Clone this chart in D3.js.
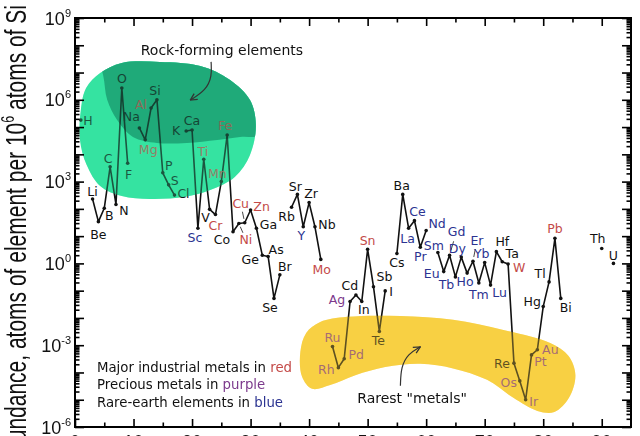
<!DOCTYPE html>
<html>
<head>
<meta charset="utf-8">
<script src="https://d3js.org/d3.v7.min.js"></script>
<style>
body { margin: 0; background: #fff; }
svg { display: block; }
.lbl { font-family: "DejaVu Sans", sans-serif; font-size: 12.5px; }
.ann { font-family: "DejaVu Sans", sans-serif; font-size: 14px; fill: #111; }
.leg { font-family: "DejaVu Sans", sans-serif; font-size: 13.3px; fill: #111; }
.tick-lbl { font-family: "Liberation Sans", Arial, sans-serif; fill: #111; }
</style>
</head>
<body>
<svg id="chart" width="640" height="436"></svg>
<script>
// elements shown, atomic number, atoms per 10^6 atoms of Si (upper crust)
var symbols = ["H","Li","Be","B","C","N","O","F","Na","Mg","Al","Si","P","S","Cl",
  "K","Ca","Sc","Ti","V","Cr","Mn","Fe","Co","Ni","Cu","Zn","Ga","Ge","As","Se","Br",
  "Rb","Sr","Y","Zr","Nb","Mo","Ru","Rh","Pd","Ag","Cd","In","Sn","Sb","Te","I",
  "Cs","Ba","La","Ce","Pr","Nd","Sm","Eu","Gd","Tb","Dy","Ho","Er","Tm","Yb","Lu",
  "Hf","Ta","W","Re","Os","Ir","Pt","Au","Hg","Tl","Pb","Bi","Th","U"];
var atomicNumbers = [1,3,4,5,6,7,8,9,11,12,13,14,15,16,17,
  19,20,21,22,23,24,25,26,27,28,29,30,31,32,33,34,35,
  37,38,39,40,41,42,44,45,46,47,48,49,50,51,52,53,
  55,56,57,58,59,60,62,63,64,65,66,67,68,69,70,71,
  72,73,74,75,76,77,78,79,80,81,82,83,90,92];
var abundance = [1.8e5,230,34,105,3500,145,2.7e6,4700,9.3e4,3.4e4,5.0e5,1.0e6,2100,760,320,
  7.2e4,7.8e4,19.5,6600,96,62,1000,5.1e4,14.5,29,31,91,19.5,2.0,1.8,0.052,0.38,
  115,340,22,170,22,1.4,8.9e-4,1.5e-4,3.2e-4,0.04,0.069,0.04,3.3,0.14,3.2e-3,0.098,
  2.3,340,19.5,37,3.9,16,2.5,0.5,2.0,0.32,1.7,0.44,1.2,0.19,1.07,0.16,
  2.7,1.15,0.95,2.2e-4,4.9e-5,1.0e-5,4.4e-4,6.8e-4,0.026,0.21,8.3,0.052,3.5,1.0];

var redMetals = ["Mg","Al","Ti","Cr","Mn","Fe","Ni","Cu","Zn","Mo","Sn","W","Pb"];
var preciousMetals = ["Ru","Rh","Pd","Ag","Os","Ir","Pt","Au"];
var rareEarths = ["Sc","Y","La","Ce","Pr","Nd","Sm","Eu","Gd","Tb","Dy","Ho","Er","Tm","Yb","Lu"];

var yTickExponents = [-6,-3,0,3,6,9];
var xTickValues = [0,10,20,30,40,50,60,70,80,90];
var legendLines = [["Major industrial metals in ","red"],["Precious metals in ","purple"],["Rare-earth elements in ","blue"]];

// where each label sits relative to its point (px)
var labelOffset = {H:[7,0],Li:[0,-8],Be:[0,13],B:[5,7],C:[-2,-8],N:[8,6],O:[0,-10],F:[1,11],
  Na:[-8,-11],Mg:[3,10],Al:[-10,-4],Si:[-2,-9],P:[6,-7],S:[6,-4],Cl:[9,-2],K:[-10,0],Ca:[0,-10],
  Sc:[-3,9],Ti:[-1,-8],V:[-4,8],Cr:[0,11],Mn:[-4,-8],Fe:[-2,-10],Co:[-11,8],Ni:[7,16],Cu:[-4,-19],
  Zn:[11,-3],Ga:[12,-4],Ge:[-12,4],As:[8,-7],Se:[-4,9],Br:[5,-8],Rb:[-5,9],Sr:[-2,-8],Y:[-2,9],
  Zr:[2,-9],Nb:[12,-2],Mo:[1,10],Ru:[0,-9],Rh:[-12,2],Pd:[12,-4],Ag:[-13,-2],Cd:[-6,-10],In:[2,8],
  Sn:[0,-9],Sb:[11,-10],Te:[-1,9],I:[6,1],Cs:[0,9],Ba:[-1,-9],La:[-1,10],Ce:[3,-9],Pr:[0,9],
  Nd:[11,-7],Sm:[-4,-7],Eu:[-12,2],Gd:[7,-24],Tb:[-9,8],Dy:[-4,-9],Ho:[-2,8],Er:[4,-21],Tm:[0,11],
  Yb:[-3,-9],Lu:[9,7],Hf:[6,-10],Ta:[10,-8],W:[11,3],Re:[-12,0],Os:[-11,2],Ir:[8,2],Pt:[9,7],
  Au:[13,0],Hg:[-11,-5],Tl:[-9,-8],Pb:[0,-10],Bi:[5,9],Th:[-4,-10],U:[0,-8]};
var leaders = ["Cu","Ni","Gd","Er"];

// annotation shapes, in [Z, log10 abundance]
var rockBlob = [[1.0,5.63],[1.9,6.43],[4.3,6.98],[8.0,7.35],[14.5,7.39],[21.4,7.24],[26.5,6.73],
  [29.9,5.99],[30.9,5.08],[29.9,3.98],[27.3,3.17],[23.1,2.69],[18.8,2.44],[12.8,2.36],[8.0,2.47],
  [4.3,2.84],[2.0,3.61],[0.85,4.53]];
var rockDark = [[3.4,7.9],[4.8,6.91],[5.5,6.0],[7.2,5.26],[9.9,4.64],[14.0,4.42],[19.1,4.42],
  [24.3,4.53],[28.2,4.64],[32.5,4.78],[33,7.9]];
var rareBlob = [[38.5,-3.25],[39.5,-2.55],[41.9,-2.15],[46.5,-1.96],[55.6,-1.93],[64.6,-2.07],
  [73.2,-2.44],[81.2,-2.92],[84.3,-3.39],[85.5,-4.09],[84.4,-4.93],[81.9,-5.45],[79.0,-5.41],
  [74.9,-4.93],[70.4,-4.27],[64.6,-3.85],[59.0,-3.68],[53.0,-3.8],[47.9,-4.1],[43.6,-4.46],
  [40.5,-4.6],[38.8,-4.16]];
var rockArrow = [[23.25,7.39],[23.4,6.87],[22.4,6.36],[19.7,5.99]];
var rareArrow = [[55.6,-4.49],[55.7,-3.8],[56.9,-3.32],[59.0,-3.06]];

var W = 640, H = 436;
var margin = {top: 18, right: 9, bottom: 9, left: 75};

var svg = d3.select("#chart");

var x = d3.scaleLinear().domain([0, 95]).range([margin.left, W - margin.right]);
var y = d3.scaleLog().domain([1e-6, 1e9]).range([H - margin.bottom, margin.top]);

var pt = function(p) { return [x(p[0]), y(Math.pow(10, p[1]))]; };
var blobLine = d3.line().curve(d3.curveCatmullRomClosed.alpha(0.5));

var data = symbols.map(function(s, i) { return {sym: s, z: atomicNumbers[i], v: abundance[i]}; });

// split into runs of consecutive atomic numbers
var segments = [];
data.forEach(function(d, i) {
  if (i === 0 || d.z - data[i - 1].z > 1) segments.push([]);
  segments[segments.length - 1].push(d);
});

var defs = svg.append("defs");
defs.append("clipPath").attr("id", "rockclip")
  .append("path").attr("d", blobLine(rockBlob.map(pt)));
defs.append("marker").attr("id", "arrow")
  .attr("viewBox", "0 0 10 10").attr("refX", 9).attr("refY", 5)
  .attr("markerWidth", 7).attr("markerHeight", 7).attr("orient", "auto")
  .append("path").attr("d", "M1,1 L9,5 L1,9").attr("fill", "none")
  .attr("stroke", "#333").attr("stroke-width", 1.5);

var lightGreen = "#36e3a2", darkGreen = "#20aa7a", gold = "#f8d044";

function drawBlobs(g) {
  g.append("path").attr("d", blobLine(rockBlob.map(pt))).attr("fill", lightGreen);
  g.append("path").attr("d", d3.line().curve(d3.curveCatmullRom)(rockDark.map(pt)))
    .attr("fill", darkGreen).attr("clip-path", "url(#rockclip)");
  g.append("path").attr("d", blobLine(rareBlob.map(pt))).attr("fill", gold);
}

drawBlobs(svg.append("g"));

function colorOf(s) {
  if (redMetals.indexOf(s) >= 0) return "#c44a48";
  if (preciousMetals.indexOf(s) >= 0) return "#7c3a8c";
  if (rareEarths.indexOf(s) >= 0) return "#2b3391";
  return "#111";
}

var line = d3.line().x(function(d) { return x(d.z); }).y(function(d) { return y(d.v); });

var plot = svg.append("g");
plot.selectAll("path.series").data(segments.filter(function(s) { return s.length > 1; }))
  .enter().append("path").attr("class", "series")
  .attr("d", line).attr("fill", "none").attr("stroke", "#111")
  .attr("stroke-width", 1.6).attr("stroke-linejoin", "round");

plot.selectAll("circle").data(data).enter().append("circle")
  .attr("cx", function(d) { return x(d.z); })
  .attr("cy", function(d) { return y(d.v); })
  .attr("r", 1.8).attr("fill", "#111");

plot.selectAll("line.leader").data(data.filter(function(d) { return leaders.indexOf(d.sym) >= 0; }))
  .enter().append("line").attr("class", "leader")
  .each(function(d) {
    var o = labelOffset[d.sym], px = x(d.z), py = y(d.v);
    d3.select(this).attr("x1", px + o[0] * 0.2).attr("y1", py + o[1] * 0.2)
      .attr("x2", px + o[0] * 0.58).attr("y2", py + o[1] * 0.58);
  })
  .attr("stroke", "#333").attr("stroke-width", 0.9);

plot.selectAll("text").data(data).enter().append("text")
  .attr("class", "lbl")
  .attr("x", function(d) { return x(d.z) + labelOffset[d.sym][0]; })
  .attr("y", function(d) { return y(d.v) + labelOffset[d.sym][1]; })
  .attr("dy", "0.36em")
  .attr("text-anchor", "middle")
  .attr("fill", function(d) { return colorOf(d.sym); })
  .text(function(d) { return d.sym; });

// tint over whatever lies inside the blobs
drawBlobs(svg.append("g").attr("opacity", 0.33));

// annotations
svg.append("text").attr("class", "ann")
  .attr("x", x(25.1)).attr("y", y(Math.pow(10, 7.83))).attr("dy", "0.36em")
  .attr("text-anchor", "middle").text("Rock-forming elements");
svg.append("text").attr("class", "ann")
  .attr("x", x(57.6)).attr("y", y(Math.pow(10, -4.93))).attr("dy", "0.36em")
  .attr("text-anchor", "middle").text("Rarest \"metals\"");
[rockArrow, rareArrow].forEach(function(a) {
  svg.append("path").attr("d", d3.line().curve(d3.curveBasis)(a.map(pt)))
    .attr("fill", "none").attr("stroke", "#333").attr("stroke-width", 1.2)
    .attr("marker-end", "url(#arrow)");
});

var legendColors = {red: "#c44a48", purple: "#7c3a8c", blue: "#2b3391"};
var leg = svg.append("g");
legendLines.forEach(function(l, i) {
  var t = leg.append("text").attr("class", "leg").attr("x", 97).attr("y", 371.5 + i * 17.5);
  t.append("tspan").text(l[0]);
  t.append("tspan").attr("fill", legendColors[l[1]]).text(l[1]);
});

// axes: inward ticks on all four sides
var decades = d3.range(-6, 10).map(function(e) { return Math.pow(10, e); });
var minors = [];
d3.range(-6, 9).forEach(function(e) { d3.range(2, 10).forEach(function(m) { minors.push(m * Math.pow(10, e)); }); });
var xMinor = d3.range(5, 95, 10);
var xMajor = d3.range(0, 100, 10);

function axisG(axis, tx, ty) {
  var g = svg.append("g").attr("transform", "translate(" + tx + "," + ty + ")").call(axis);
  g.select(".domain").remove();
  g.selectAll(".tick line").attr("stroke", "#000").attr("stroke-width", 1.6);
  g.selectAll(".tick text").remove();
  return g;
}
var L = margin.left, R = W - margin.right, T = margin.top, B = H - margin.bottom;
axisG(d3.axisLeft(y).tickValues(decades).tickSize(-9), L, 0);
axisG(d3.axisLeft(y).tickValues(minors).tickSize(-4.5), L, 0);
axisG(d3.axisRight(y).tickValues(decades).tickSize(-9), R, 0);
axisG(d3.axisRight(y).tickValues(minors).tickSize(-4.5), R, 0);
axisG(d3.axisTop(x).tickValues(xMajor).tickSize(-8), 0, T);
axisG(d3.axisTop(x).tickValues(xMinor).tickSize(-4.5), 0, T);
axisG(d3.axisBottom(x).tickValues(xMajor).tickSize(-8), 0, B);
axisG(d3.axisBottom(x).tickValues(xMinor).tickSize(-4.5), 0, B);

svg.append("rect").attr("x", L).attr("y", T).attr("width", R - L).attr("height", B - T)
  .attr("fill", "none").attr("stroke", "#000").attr("stroke-width", 2);

// y tick labels 10^n
yTickExponents.forEach(function(e) {
  var t = svg.append("text").attr("class", "tick-lbl")
    .attr("x", L - 4).attr("y", y(Math.pow(10, e)) + 6.5).attr("text-anchor", "end");
  t.append("tspan").attr("font-size", 18).text("10");
  t.append("tspan").attr("font-size", 11).attr("dy", -8).text(e);
});

// x tick labels, mostly below the visible area
xTickValues.forEach(function(v) {
  svg.append("text").attr("class", "tick-lbl").attr("font-size", 18)
    .attr("x", x(v)).attr("y", B + 21).attr("text-anchor", "middle").attr("fill", "#555").text(v);
});

// y axis title
var yt = svg.append("text").attr("class", "tick-lbl")
  .attr("transform", "translate(25.5,5) scale(1.4,1) rotate(-90)")
  .attr("text-anchor", "end").attr("font-size", 21);
yt.append("tspan").text("Abundance, atoms of element per 10");
yt.append("tspan").attr("font-size", 12.5).attr("dy", -8).text("6");
yt.append("tspan").attr("dy", 8).text(" atoms of Si");
</script>
</body>
</html>
